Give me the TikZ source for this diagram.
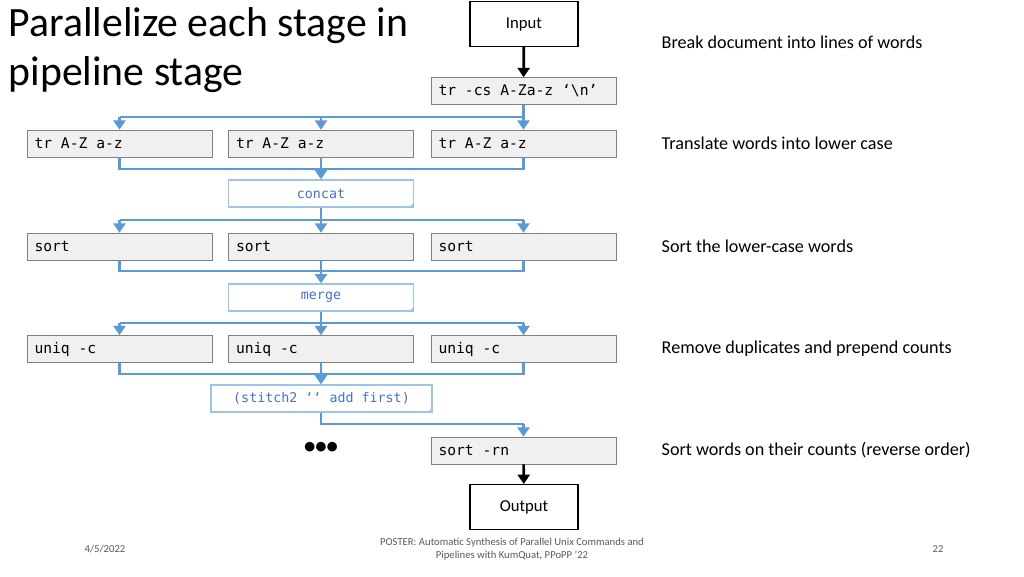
\documentclass[tikz,border=0pt]{standalone}
\usepackage{fontspec}
\setmainfont{Carlito}
\setmonofont{DejaVu Sans Mono}
\usetikzlibrary{arrows.meta}
\definecolor{flowblue}{RGB}{91,155,213}
\definecolor{lightblue}{RGB}{157,195,230}
\definecolor{textblue}{RGB}{68,114,196}
\definecolor{cmdgray}{RGB}{240,240,240}
\newcommand{\cmdline}[1]{\makebox[127.5pt][l]{#1}}
\tikzset{
	cmd/.style={draw=black!50, fill=cmdgray, minimum width=185*0.75pt, minimum height=27*0.75pt, inner sep=0pt, font=\fontsize{11}{13}\ttfamily},
	agg/.style={draw=lightblue, line width=0.9pt, fill=white, minimum height=27*0.75pt, inner sep=0pt, font=\fontsize{10}{12}\ttfamily, text=textblue},
	io/.style={draw, line width=0.8pt, minimum width=108*0.75pt, minimum height=45*0.75pt, font=\fontsize{12.5}{14}\selectfont},
	note/.style={anchor=west, font=\fontsize{13.6}{15}\selectfont},
	flow/.style={draw=flowblue, line width=2.2pt},
	flowarrow/.style={flow, -{Triangle[width=9pt,length=7pt]}},
	pipe/.style={line width=2pt, -{Triangle[width=9pt,length=7pt]}},
	foot/.style={font=\fontsize{8}{10}\selectfont, text=black!65, align=center}
}
\begin{document}
\begin{tikzpicture}[x=0.75pt, y=-0.75pt]
	\useasboundingbox (0,0) rectangle (1024,576);

	\node[anchor=west, font=\fontsize{31.3}{37}\selectfont, align=left] (title) at (4,50) {Parallelize each stage in\\pipeline stage};

	\node[io] (in) at (524,24) {Input};
	\node[cmd] (trcs) at (523.5,91) {\cmdline{tr -cs A-Za-z ‘\textbackslash n’}};

	\node[cmd] (t1) at (119.5,143.5) {\cmdline{tr A-Z a-z}};
	\node[cmd] (t2) at (321,143.5) {\cmdline{tr A-Z a-z}};
	\node[cmd] (t3) at (523.5,143.5) {\cmdline{tr A-Z a-z}};
	\node[agg, minimum width=185*0.75pt] (cc) at (321,193.5) {concat};

	\node[cmd] (s1) at (119.5,246.5) {\cmdline{sort}};
	\node[cmd] (s2) at (321,246.5) {\cmdline{sort}};
	\node[cmd] (s3) at (523.5,246.5) {\cmdline{sort}};
	\node[agg, minimum width=185*0.75pt] (mg) at (321,297.5) {merge};

	\node[cmd] (u1) at (119.5,349) {\cmdline{uniq -c}};
	\node[cmd] (u2) at (321,349) {\cmdline{uniq -c}};
	\node[cmd] (u3) at (523.5,349) {\cmdline{uniq -c}};
	\node[agg, minimum width=221*0.75pt] (st) at (321.5,398.5) {(stitch2 ‘‘ add first)};

	\node[font=\fontsize{17}{17}\bfseries] (dots) at (321,448) {\textbullet\textbullet\textbullet};
	\node[cmd] (sn) at (523.5,450.5) {\cmdline{sort -rn}};
	\node[io] (out) at (524,507) {Output};

	% folded corners of the aggregators
	\fill[lightblue] (cc.south east) -- ++(0,-5) -- ++(-5,5) -- cycle;
	\fill[lightblue] (mg.south east) -- ++(0,-5) -- ++(-5,5) -- cycle;
	\fill[lightblue] (st.south east) -- ++(0,-5) -- ++(-5,5) -- cycle;

	% notes on the right
	\node[note] (n1) at (657,42) {Break document into lines of words};
	\node[note] (n2) at (657,143.5) {Translate words into lower case};
	\node[note] (n3) at (657,246.5) {Sort the lower-case words};
	\node[note] (n4) at (657,349) {Remove duplicates and prepend counts};
	\node[note] (n5) at (657,450.5) {Sort words on their counts (reverse order)};

	% split and merge points
	\coordinate (p1) at (523.5,117);
	\coordinate (q1) at (321,169);
	\coordinate (p2) at (321,220);
	\coordinate (q2) at (321,271);
	\coordinate (p3) at (321,323);
	\coordinate (q3) at (321,374);
	\coordinate (p4) at (321,424);

	% black pipes
	\draw[pipe] (in) -- (trcs);
	\draw[pipe] (sn) -- (out);

	% stage 1
	\draw[flow] (trcs) -- (p1) -- (t1 |- p1);
	\draw[flowarrow] (t1 |- p1) -- (t1);
	\draw[flowarrow] (t2 |- p1) -- (t2);
	\draw[flowarrow] (p1) -- (t3);
	\draw[flow] (t1) -- (t1 |- q1) -- (t3 |- q1) -- (t3);
	\draw[flow] (t2) -- (q1);
	\draw[flowarrow] (q1) -- (cc);

	% stage 2
	\draw[flow] (cc) -- (p2);
	\draw[flow] (s1 |- p2) -- (s3 |- p2);
	\draw[flowarrow] (s1 |- p2) -- (s1);
	\draw[flowarrow] (p2) -- (s2);
	\draw[flowarrow] (s3 |- p2) -- (s3);
	\draw[flow] (s1) -- (s1 |- q2) -- (s3 |- q2) -- (s3);
	\draw[flow] (s2) -- (q2);
	\draw[flowarrow] (q2) -- (mg);

	% stage 3
	\draw[flow] (mg) -- (p3);
	\draw[flow] (u1 |- p3) -- (u3 |- p3);
	\draw[flowarrow] (u1 |- p3) -- (u1);
	\draw[flowarrow] (p3) -- (u2);
	\draw[flowarrow] (u3 |- p3) -- (u3);
	\draw[flow] (u1) -- (u1 |- q3) -- (u3 |- q3) -- (u3);
	\draw[flow] (u2) -- (q3);
	\draw[flowarrow] (q3) -- (st.north -| q3);

	% to the last stage
	\draw[flow] (st.south -| p4) -- (p4) -- (sn |- p4);
	\draw[flowarrow] (sn |- p4) -- (sn);

	% footer
	\node[foot] (date) at (105,549) {4/5/2022};
	\node[foot] (ref) at (512,549) {POSTER: Automatic Synthesis of Parallel Unix Commands and\\Pipelines with KumQuat, PPoPP '22};
	\node[foot] (page) at (938,549) {22};
\end{tikzpicture}
\end{document}
